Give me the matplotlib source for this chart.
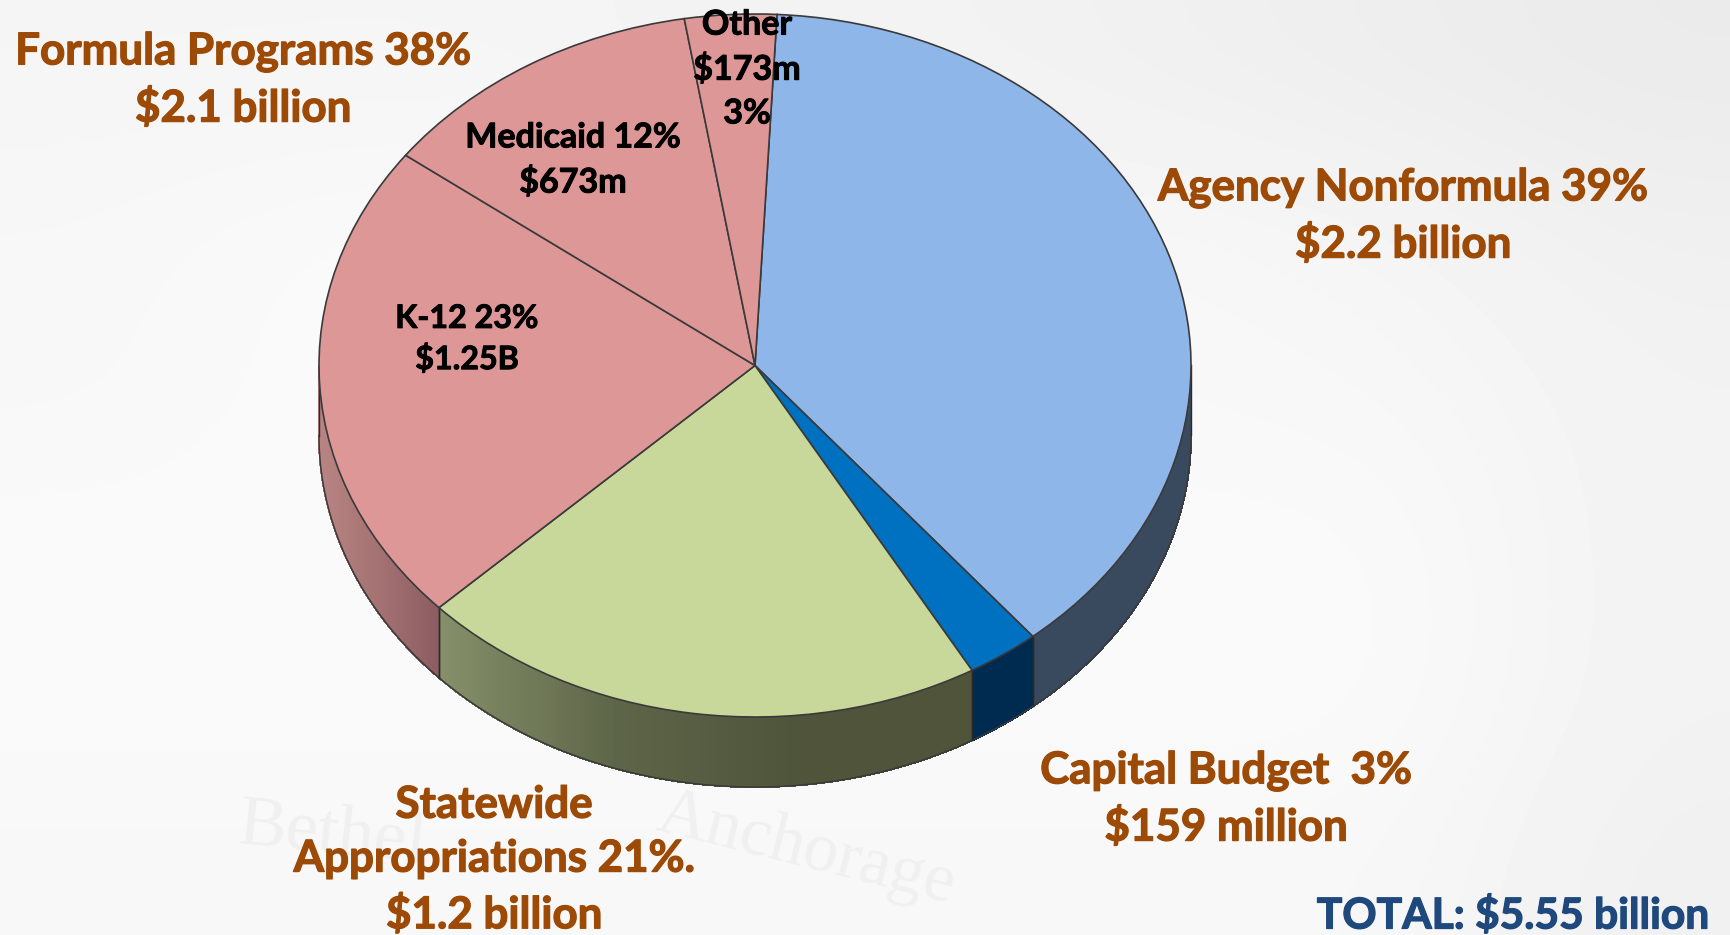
import numpy as np
import matplotlib
matplotlib.use('Agg')
import matplotlib.pyplot as plt
import matplotlib.patheffects as pe
from matplotlib.collections import PolyCollection
from matplotlib.colors import LinearSegmentedColormap

# share of the circle each slice takes
slices = ['Agency Nonformula', 'Capital Budget', 'Statewide Appropriations', 'K-12', 'Medicaid', 'Other']
shares = [38.2, 2.7, 21.2, 22.3, 12.2, 3.4]
top_colors = ['#8fb6e9', '#0070c0', '#c7d89a', '#dd9797', '#dd9797', '#dd9797']
wall_colors = [['#3a4a5e', '#3a4a5e'], ['#002b50', '#002b50'],
               ['#858f69', '#5d6548', '#4f543b', '#4f543b'],
               ['#b98484', '#a47272', '#8c5c62'], ['#bb8787', '#bb8787'], ['#bb8787', '#bb8787']]

orange_labels = ['Formula Programs 38%\n$2.1 billion', 'Agency Nonformula 39%\n$2.2 billion',
                 'Capital Budget  3%\n$159 million', 'Statewide\nAppropriations 21%.\n$1.2 billion']
orange_pos = [(243, 80), (1403, 216), (1226, 799), (494, 860)]
black_labels = ['K-12 23%\n$1.25B', 'Medicaid 12%\n$673m', 'Other\n$173m\n3%']
black_pos = [(467, 339), (573, 160), (747, 69)]
black_sizes = [23.2, 24.5, 24.5]
total_label = 'TOTAL: $5.55 billion'

# paper tone of the slide, greyer toward the top and the right edge
paper = [[0.96, 0.96, 0.96, 0.95, 0.95, 0.94, 0.93, 0.92],
         [0.97, 0.98, 0.98, 0.97, 0.97, 0.97, 0.96, 0.94],
         [0.97, 0.98, 0.98, 0.98, 0.98, 0.97, 0.97, 0.95],
         [0.98, 0.98, 0.98, 0.98, 0.98, 0.98, 0.98, 0.95],
         [0.98, 0.98, 0.98, 0.98, 0.98, 0.98, 0.98, 0.95],
         [0.97, 0.97, 0.97, 0.97, 0.97, 0.97, 0.97, 0.94]]

W, H = 1731, 935
plt.rcParams['font.family'] = ['Lato', 'DejaVu Sans']

fig = plt.figure(figsize=(W / 100, H / 100), dpi=100, facecolor='#fbfbfb')

bg = fig.add_axes([0, 0, 1, 1])
bg.imshow(paper, cmap='gray', vmin=0, vmax=1, extent=(0, W, H, 0), aspect='auto', interpolation='bicubic')
bg.set_xlim(0, W)
bg.set_ylim(H, 0)
bg.axis('off')

# faint map watermark behind the chart
bg.text(235, 835, 'Bethel', fontsize=52, family='Liberation Serif', color='#f0f0f0', rotation=-6, ha='left', va='center')
bg.text(650, 850, 'Anchorage', fontsize=50, family='Liberation Serif', color='#f0f0f0', rotation=-14, ha='left', va='center')

# the ellipse of the pie top: 319..1191 wide, 14..717 high
ax = fig.add_axes([319 / W, 1 - 717 / H, 872 / W, 703 / H])
wedges, _ = ax.pie(shares, colors=top_colors, startangle=87.1, counterclock=False, radius=1,
                   wedgeprops={'edgecolor': '#3a3a3a', 'linewidth': 1.2, 'zorder': 5})
ax.set_aspect('auto')
ax.set_xlim(-1, 1)
ax.set_ylim(-1, 1)
ax.set_position([319 / W, 1 - 717 / H, 872 / W, 703 / H])
ax.patch.set_alpha(0)
for w in wedges:
    w.set_clip_on(False)

depth = 2 * 70 / 703

for w, stops in zip(wedges, wall_colors):
    # only the front half of the rim shows
    t1, t2 = w.theta1 % 360, w.theta2 % 360
    if t2 < t1:
        t2 += 360
    vis = [(max(t1, a), min(t2, b)) for a, b in [(180, 360), (540, 720)] if max(t1, a) < min(t2, b)]
    if not vis:
        continue
    cmap = LinearSegmentedColormap.from_list('wall', stops)
    for a, b in vis:
        th = np.radians(np.linspace(a, b, 120))
        x, y = np.cos(th), np.sin(th)
        polys = [[(x[i], y[i]), (x[i + 1], y[i + 1]), (x[i + 1], y[i + 1] - depth), (x[i], y[i] - depth)]
                 for i in range(len(th) - 1)]
        pos = (x[:-1] - x.min()) / (x.max() - x.min())
        pc = PolyCollection(polys, facecolors=cmap(pos), edgecolors=cmap(pos), linewidths=0.8,
                            antialiaseds=False, zorder=2, clip_on=False)
        ax.add_collection(pc)
        ax.plot(x, y - depth, color='#3a3a3a', lw=1.1, zorder=3, clip_on=False)
        ax.plot([x[0], x[0]], [y[0], y[0] - depth], color='#2a2a2a', lw=1.0, zorder=3, clip_on=False)
        ax.plot([x[-1], x[-1]], [y[-1], y[-1] - depth], color='#2a2a2a', lw=1.0, zorder=3, clip_on=False)

fg = fig.add_axes([0, 0, 1, 1])
fg.set_xlim(0, W)
fg.set_ylim(H, 0)
fg.axis('off')
fg.patch.set_alpha(0)

for s, (x, y) in zip(orange_labels, orange_pos):
    fg.text(x, y, s, fontsize=31.6, fontweight='bold', color='#9c4a05', ha='center', va='center', linespacing=1.42,
            path_effects=[pe.withStroke(linewidth=0.9, foreground='#9c4a05')])
for s, (x, y), size in zip(black_labels, black_pos, black_sizes):
    fg.text(x, y, s, fontsize=size, fontweight='bold', color='black', ha='center', va='center', linespacing=1.45,
            path_effects=[pe.withStroke(linewidth=0.7, foreground='black')])
fg.text(1513, 916, total_label, fontsize=30.6, fontweight='bold', color='#1f497d', ha='center', va='center',
        path_effects=[pe.withStroke(linewidth=0.9, foreground='#1f497d')])

fig.savefig('out.png', dpi=100)
